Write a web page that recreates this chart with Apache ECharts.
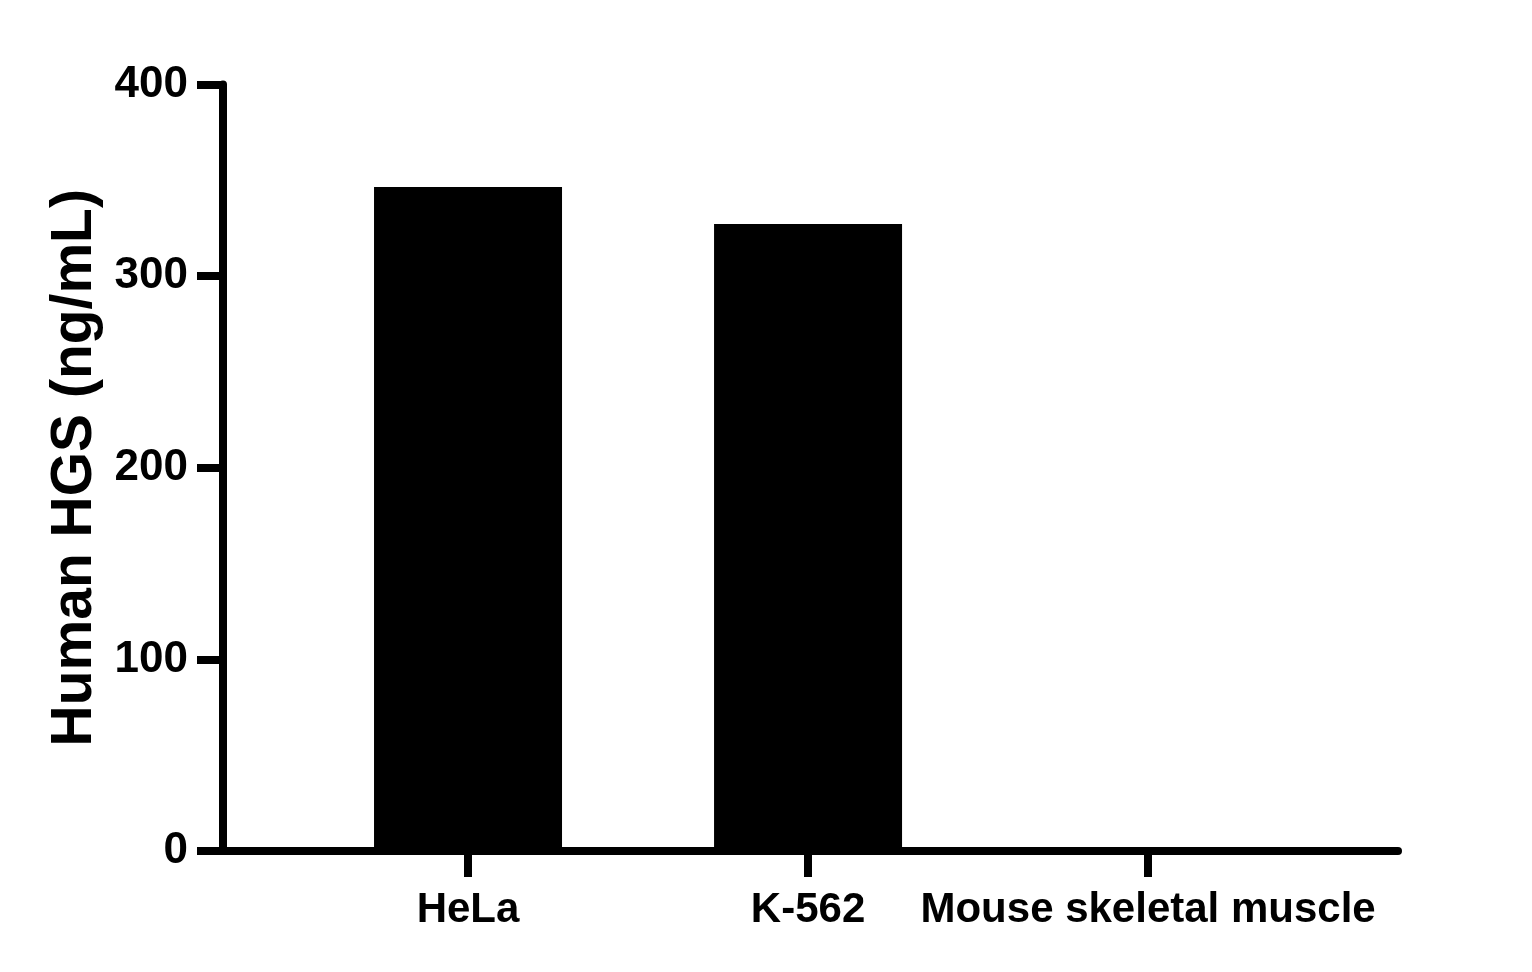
<!DOCTYPE html>
<html>
<head>
<meta charset="utf-8">
<script src="https://cdn.jsdelivr.net/npm/echarts@6/dist/echarts.min.js"></script>
<style>
html,body{margin:0;padding:0;background:#fff;}
#chart{width:1532px;height:972px;}
</style>
</head>
<body>
<div id="chart"></div>
<script>
var categories = ["HeLa", "K-562", "Mouse skeletal muscle"];
var values = [346.5, 327.2, 0];
var yTicks = [0, 100, 200, 300, 400];
var yTitle = "Human HGS (ng/mL)";

var positions = categories.map(function (c, i) { return i; });
var seriesData = values.map(function (v, i) { return [positions[i], v]; });

var chart = echarts.init(document.getElementById('chart'), null, { renderer: 'canvas' });
var FONT = '"Liberation Sans", Arial, sans-serif';
chart.setOption({
  animation: false,
  backgroundColor: '#ffffff',
  grid: { left: 223, right: 134, top: 84.5, bottom: 121, containLabel: false },
  xAxis: {
    type: 'value',
    min: -0.7206,
    max: 2.735,
    splitLine: { show: false },
    axisLine: { show: true, onZero: false, lineStyle: { color: '#000', width: 8 } },
    axisTick: {
      show: true, length: 26, inside: false,
      customValues: positions,
      lineStyle: { color: '#000', width: 8 }
    },
    axisLabel: {
      show: true,
      customValues: positions,
      margin: 38,
      color: '#000',
      fontFamily: FONT,
      fontWeight: 'bold',
      fontSize: 42,
      formatter: function (v) { return categories[Math.round(v)]; }
    }
  },
  yAxis: {
    type: 'value',
    min: yTicks[0],
    max: yTicks[yTicks.length - 1],
    interval: 100,
    splitLine: { show: false },
    axisLine: { show: true, onZero: false, lineStyle: { color: '#000', width: 8 } },
    axisTick: { show: true, length: 26, inside: false, lineStyle: { color: '#000', width: 8 } },
    axisLabel: {
      margin: 35,
      color: '#000',
      fontFamily: FONT,
      fontWeight: 'bold',
      fontSize: 44
    },
    name: yTitle,
    nameLocation: 'middle',
    nameRotate: 90,
    nameGap: 119,
    nameTextStyle: {
      color: '#000',
      fontFamily: FONT,
      fontWeight: 'bold',
      fontSize: 57
    }
  },
  series: [{
    type: 'bar',
    data: seriesData,
    barWidth: 188,
    itemStyle: { color: '#000' }
  }]
});
</script>
</body>
</html>
